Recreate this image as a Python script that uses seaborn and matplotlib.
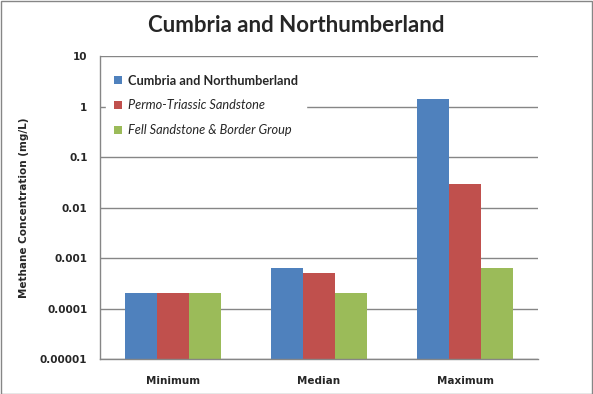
import matplotlib
matplotlib.use("Agg")
import matplotlib.pyplot as plt
import seaborn as sns
import pandas as pd
from matplotlib.patches import Rectangle

categories = ["Minimum", "Median", "Maximum"]
series_names = ["Cumbria and Northumberland", "Permo-Triassic Sandstone", "Fell Sandstone & Border Group"]
cumbria = [0.0002, 0.00063, 1.4]
permo = [0.0002, 0.0005, 0.029]
fell = [0.0002, 0.0002, 0.00062]
ytick_vals = [0.00001, 0.0001, 0.001, 0.01, 0.1, 1, 10]
ytick_labels = ["0.00001", "0.0001", "0.001", "0.01", "0.1", "1", "10"]
colors = ["#4F81BD", "#C0504D", "#9BBB59"]

rows = []
for name, vals in zip(series_names, [cumbria, permo, fell]):
    for c, v in zip(categories, vals):
        rows.append({"Statistic": c, "Series": name, "Value": v})
df = pd.DataFrame(rows)

sns.set_style("white")
fig = plt.figure(figsize=(5.93, 3.94), dpi=100)
ax = fig.add_axes([100/593, 1-359/394, 438/593, 303/394])
ax.set_yscale("log")
sns.barplot(data=df, x="Statistic", y="Value", hue="Series", order=categories,
            hue_order=series_names, palette=colors, width=0.66, gap=0,
            saturation=1, errorbar=None, ax=ax, legend=True)
for p in ax.patches:
    p.set_edgecolor("none")

ax.set_ylim(0.00001, 10)
ax.set_xlim(-0.5, 2.5)
ax.set_yticks(ytick_vals)
ax.set_yticklabels(ytick_labels)
ax.yaxis.set_minor_locator(matplotlib.ticker.NullLocator())
ax.set_xticks(range(3))
ax.set_xticklabels(categories)
ax.set_xticks([-0.5, 0.5, 1.5, 2.5], minor=True)
ax.tick_params(axis="x", which="major", length=0, pad=12)
ax.tick_params(axis="x", which="minor", length=5, color="#868686", width=1, direction="out")
ax.tick_params(axis="y", which="major", length=5, color="#868686", width=1, direction="out", pad=4)
for lab in ax.get_xticklabels() + ax.get_yticklabels():
    lab.set_fontweight("bold")
    lab.set_fontsize(7.5)
    lab.set_family("DejaVu Sans")
ax.grid(axis="y", which="major", color="#868686", linewidth=1)
ax.set_axisbelow(True)
for s in ["top", "right"]:
    ax.spines[s].set_visible(False)
for s in ["left", "bottom"]:
    ax.spines[s].set_color("#868686")
    ax.spines[s].set_linewidth(1)

ax.set_xlabel("")
ax.set_ylabel("Methane Concentration (mg/L)", fontsize=7.5, fontweight="bold",
              family="DejaVu Sans", labelpad=8)

leg = ax.legend(loc="upper left", bbox_to_anchor=(0.0, 0.985), frameon=True,
                handlelength=0.6, handleheight=0.6, handletextpad=0.5,
                labelspacing=1.0, borderpad=0.6, prop={"family": "Lato", "size": 9.2})
leg.get_frame().set_edgecolor("white")
leg.get_frame().set_facecolor("white")
leg.get_frame().set_alpha(1)
texts = leg.get_texts()
texts[0].set_fontweight("bold")
texts[1].set_fontstyle("italic")
texts[2].set_fontstyle("italic")

fig.text(0.5, 1-26/394, "Cumbria and Northumberland", ha="center", va="center",
         fontsize=16, fontweight="bold", family="Lato")

fig.patches.append(Rectangle((0.001, 0.001), 0.997, 0.997, transform=fig.transFigure,
                             fill=False, edgecolor="#868686", linewidth=1))
fig.savefig("out.png", dpi=100)
